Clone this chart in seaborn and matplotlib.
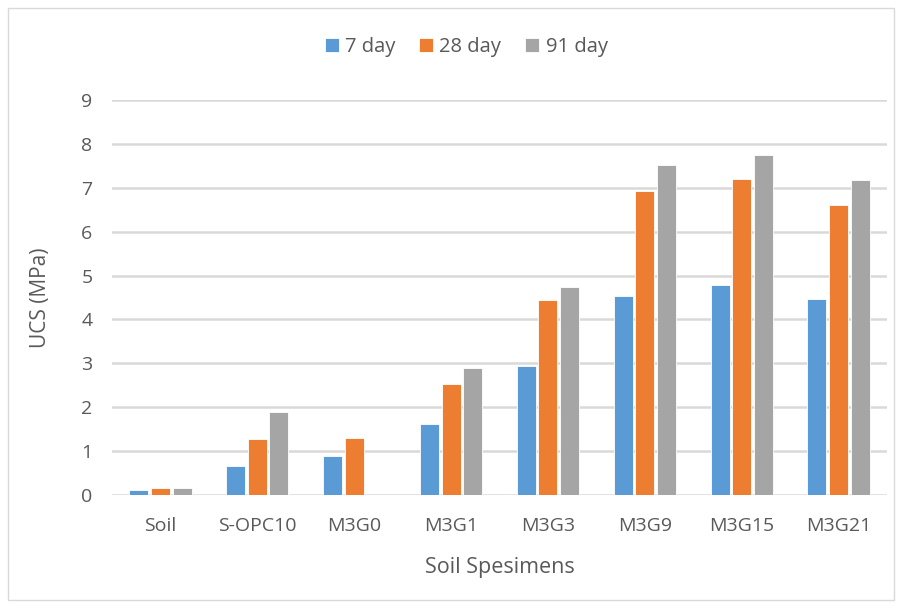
import numpy as np
import pandas as pd
import seaborn as sns
import matplotlib.pyplot as plt
from matplotlib.patches import Rectangle

# data
specimens = ['Soil', 'S-OPC10', 'M3G0', 'M3G1', 'M3G3', 'M3G9', 'M3G15', 'M3G21']
ages = ['7 day', '28 day', '91 day']
ucs_7 = [0.11, 0.67, 0.89, 1.62, 2.93, 4.53, 4.79, 4.47]
ucs_28 = [0.17, 1.27, 1.30, 2.52, 4.44, 6.92, 7.21, 6.60]
ucs_91 = [0.17, 1.88, np.nan, 2.90, 4.73, 7.53, 7.74, 7.18]
colors = ['#5B9BD5', '#ED7D31', '#A5A5A5']

df = pd.DataFrame({
    'specimen': specimens * 3,
    'age': [a for a in ages for _ in specimens],
    'ucs': ucs_7 + ucs_28 + ucs_91,
})

sns.set_style('white')
plt.rcParams['font.family'] = ['Open Sans', 'DejaVu Sans']
txt = '#595959'

fig = plt.figure(figsize=(9.01, 6.08), dpi=100)
ax = fig.add_axes([112 / 901, 1 - 495 / 608, 775 / 901, 395 / 608])

sns.barplot(data=df, x='specimen', y='ucs', hue='age', order=specimens,
            hue_order=ages, palette=colors, saturation=1, width=0.67, gap=0.12,
            edgecolor='white', linewidth=0.6, errorbar=None, ax=ax)

ax.set_ylim(0, 9)
ax.set_xlim(-0.5, 7.5)
ax.set_yticks(range(10))
ax.yaxis.grid(True, color='#d9d9d9', linewidth=1.8)
ax.set_axisbelow(True)
sns.despine(ax=ax, left=True, bottom=True, top=True, right=True)
ax.tick_params(axis='both', length=0, labelsize=14, colors=txt)
ax.tick_params(axis='y', pad=14)
ax.tick_params(axis='x', pad=16)
ax.set_xlabel('Soil Spesimens', fontsize=15.5, color=txt, labelpad=16)
ax.set_ylabel('UCS (MPa)', fontsize=15, color=txt, labelpad=22)

ax.legend(loc='center', bbox_to_anchor=((466 - 112) / 775, (495 - 47) / 395),
          ncol=3, frameon=False,
          fontsize=14.5, labelcolor=txt, handlelength=0.7, handleheight=0.7,
          handletextpad=0.3, columnspacing=1.2)

fig.patches.append(Rectangle((8 / 901, 8 / 608), 886 / 901, 592 / 608,
                             transform=fig.transFigure, fill=False,
                             edgecolor='#d9d9d9', linewidth=1))

fig.savefig('out.png', dpi=100)
